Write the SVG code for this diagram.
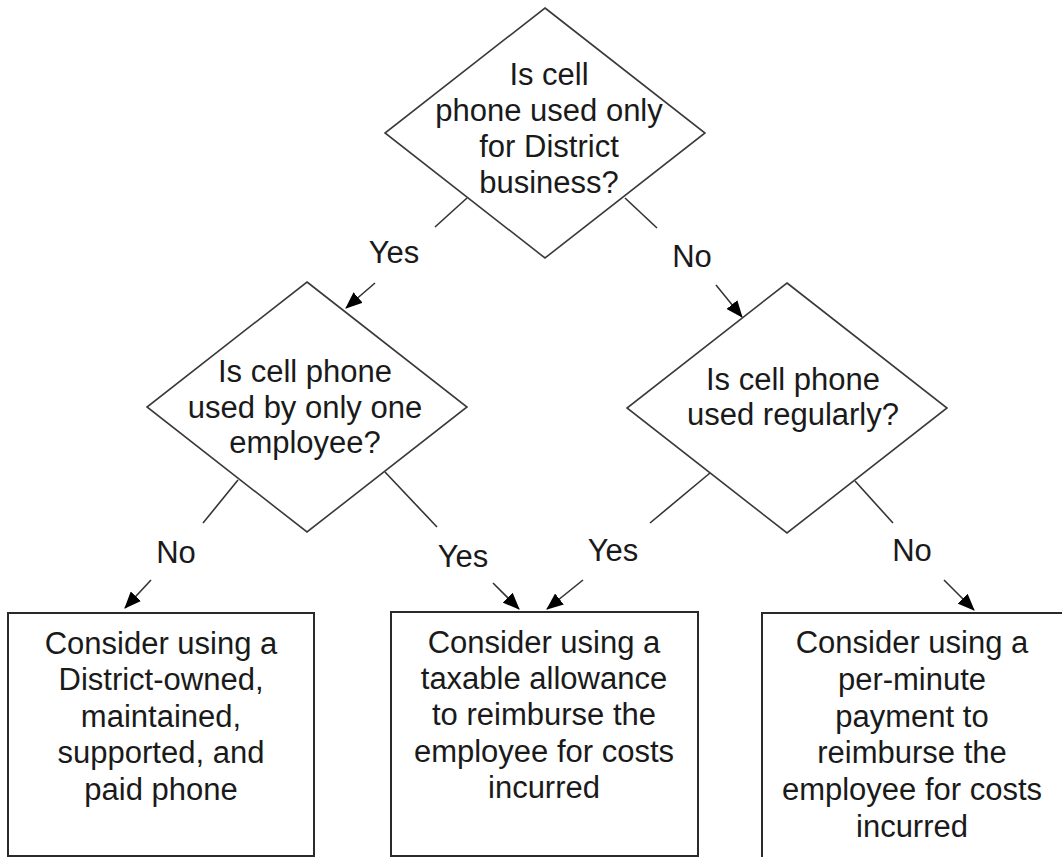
<svg xmlns="http://www.w3.org/2000/svg" width="1062" height="857" viewBox="0 0 1062 857">
<defs>
<style>
text{font-family:"Liberation Sans",Arial,sans-serif;font-size:31px;fill:#1a1a1a;text-anchor:middle}
.shape{fill:#fff;stroke:#3a3a3a;stroke-width:1.6}
.box{fill:#fff;stroke:#2a2a2a;stroke-width:2}
.conn{fill:none;stroke:#333;stroke-width:1.6}
.arr{fill:none;stroke:#333;stroke-width:1.6;marker-end:url(#ah)}
</style>
<marker id="ah" markerUnits="userSpaceOnUse" markerWidth="17" markerHeight="14" refX="16" refY="7" orient="auto">
<path d="M0,0 L17,7 L0,14 z" fill="#000"/>
</marker>
</defs>
<rect width="1062" height="857" fill="#fff"/>
<g id="connectors">
<line class="conn" x1="467" y1="198" x2="435" y2="227"/>
<line class="conn" x1="625" y1="198" x2="657" y2="228"/>
<line class="conn" x1="238" y1="480" x2="203" y2="523"/>
<line class="conn" x1="385" y1="472" x2="437" y2="527"/>
<line class="conn" x1="710" y1="473" x2="650" y2="523"/>
<line class="conn" x1="855" y1="481" x2="893" y2="523"/>
<line class="arr" x1="375" y1="283" x2="346" y2="308"/>
<line class="arr" x1="716" y1="285" x2="742" y2="317"/>
<line class="arr" x1="151" y1="580" x2="125" y2="608"/>
<line class="arr" x1="493" y1="583" x2="519" y2="609"/>
<line class="arr" x1="583" y1="580" x2="547" y2="609"/>
<line class="arr" x1="944" y1="580" x2="974" y2="610"/>
<text x="394" y="263">Yes</text>
<text x="692" y="267">No</text>
<text x="176" y="563">No</text>
<text x="463" y="567">Yes</text>
<text x="613" y="561">Yes</text>
<text x="912" y="561">No</text>
</g>
<g id="q1">
<polygon class="shape" points="545,8 705,133 545,258 385,133"/>
<text x="549" y="85">Is cell</text>
<text x="549" y="121">phone used only</text>
<text x="549" y="157">for District</text>
<text x="549" y="193">business?</text>
</g>
<g id="q2">
<polygon class="shape" points="307,282 467,407 307,532 147,407"/>
<text x="305" y="382">Is cell phone</text>
<text x="305" y="418">used by only one</text>
<text x="305" y="453">employee?</text>
</g>
<g id="q3">
<polygon class="shape" points="787,283 947,408 787,533 627,408"/>
<text x="793" y="390">Is cell phone</text>
<text x="793" y="425">used regularly?</text>
</g>
<g id="r1">
<rect class="box" x="8" y="613" width="306" height="243"/>
<text x="161" y="654">Consider using a</text>
<text x="161" y="690">District-owned,</text>
<text x="161" y="727">maintained,</text>
<text x="161" y="763">supported, and</text>
<text x="161" y="800">paid phone</text>
</g>
<g id="r2">
<rect class="box" x="391" y="612" width="307" height="244"/>
<text x="544" y="653">Consider using a</text>
<text x="544" y="689">taxable allowance</text>
<text x="544" y="725">to reimburse the</text>
<text x="544" y="762">employee for costs</text>
<text x="544" y="798">incurred</text>
</g>
<g id="r3">
<rect class="box" x="762" y="613" width="310" height="250"/>
<text x="912" y="653">Consider using a</text>
<text x="912" y="690">per-minute</text>
<text x="912" y="727">payment to</text>
<text x="912" y="763">reimburse the</text>
<text x="912" y="800">employee for costs</text>
<text x="912" y="837">incurred</text>
</g>
</svg>
